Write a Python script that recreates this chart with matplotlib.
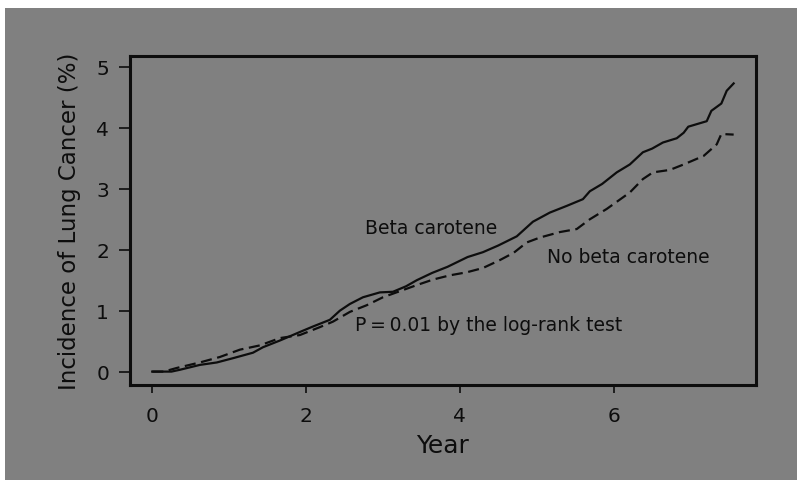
import matplotlib
matplotlib.use("Agg")
import matplotlib.pyplot as plt
from matplotlib.patches import Rectangle

# Kaplan-Meier style cumulative incidence
beta_x = [0, 0.25, 0.36, 0.62, 0.84, 1.05, 1.31, 1.44, 1.66, 1.92, 2.09, 2.31, 2.44,
          2.57, 2.74, 2.96, 3.13, 3.30, 3.44, 3.64, 3.84, 4.10, 4.30, 4.50, 4.74, 4.95,
          5.17, 5.39, 5.60, 5.69, 5.85, 6.04, 6.21, 6.38, 6.50, 6.64, 6.82, 6.91, 6.97,
          7.21, 7.27, 7.40, 7.47, 7.56]
beta_y = [0, 0, 0.03, 0.11, 0.15, 0.22, 0.31, 0.40, 0.51, 0.65, 0.74, 0.85, 1.00,
          1.11, 1.22, 1.30, 1.31, 1.40, 1.50, 1.62, 1.72, 1.88, 1.96, 2.07, 2.22, 2.46,
          2.61, 2.72, 2.83, 2.96, 3.08, 3.27, 3.40, 3.60, 3.66, 3.76, 3.83, 3.92, 4.02,
          4.11, 4.28, 4.40, 4.61, 4.73]

nobeta_x = [0, 0.15, 0.32, 0.62, 0.88, 1.14, 1.40, 1.66, 1.92, 2.18, 2.35, 2.57, 2.79,
            3.00, 3.22, 3.44, 3.65, 3.87, 4.09, 4.30, 4.52, 4.70, 4.87, 5.04, 5.30, 5.52,
            5.69, 5.91, 6.21, 6.38, 6.51, 6.73, 6.91, 7.17, 7.34, 7.40, 7.56]
nobeta_y = [0, 0, 0.06, 0.15, 0.24, 0.36, 0.43, 0.55, 0.60, 0.73, 0.82, 0.98, 1.09,
            1.22, 1.32, 1.42, 1.51, 1.58, 1.63, 1.70, 1.83, 1.95, 2.12, 2.20, 2.29, 2.34,
            2.50, 2.67, 2.94, 3.16, 3.27, 3.31, 3.40, 3.54, 3.73, 3.90, 3.89]

x_ticks = [0, 2, 4, 6]
y_ticks = [0, 1, 2, 3, 4, 5]

gray = "#808080"
ink = "#0d0d0d"

fig = plt.figure(figsize=(7.97, 4.81), dpi=100, facecolor="white")
# gray scan area, with the thin white margin at top and left
bg = Rectangle((5 / 797, 0), 1, 1 - 9 / 481, transform=fig.transFigure,
               facecolor=gray, edgecolor="none", zorder=-10)
fig.add_artist(bg)

ax = fig.add_axes([0.163, 0.1975, 0.7855, 0.684])
ax.set_facecolor(gray)
ax.set_zorder(1)

ax.plot(beta_x, beta_y, color=ink, lw=1.6)
ax.plot(nobeta_x, nobeta_y, color=ink, lw=1.6, linestyle=(0, (5, 2.5)))

ax.set_xlim(-0.29, 7.85)
ax.set_ylim(-0.22, 5.18)
ax.set_xticks(x_ticks)
ax.set_yticks(y_ticks)

for s in ax.spines.values():
    s.set_linewidth(2.2)
    s.set_color(ink)

ax.tick_params(axis="both", direction="out", colors=ink, labelsize=14.5, width=1.2)
ax.tick_params(axis="x", length=6, pad=9)
ax.tick_params(axis="y", length=8, pad=7)

ax.set_xlabel("Year", fontsize=18, color=ink, labelpad=6)
ax.set_ylabel("Incidence of Lung Cancer (%)", fontsize=16.5, color=ink, labelpad=11)

ax.text(2.77, 2.37, "Beta carotene", fontsize=13.5, color=ink, va="center")
ax.text(5.13, 1.89, "No beta carotene", fontsize=13.5, color=ink, va="center")
ax.text(2.64, 0.78, "P\u2009=\u20090.01 by the log-rank test", fontsize=13.5, color=ink, va="center")

fig.savefig("out.png", dpi=100, facecolor=fig.get_facecolor())
